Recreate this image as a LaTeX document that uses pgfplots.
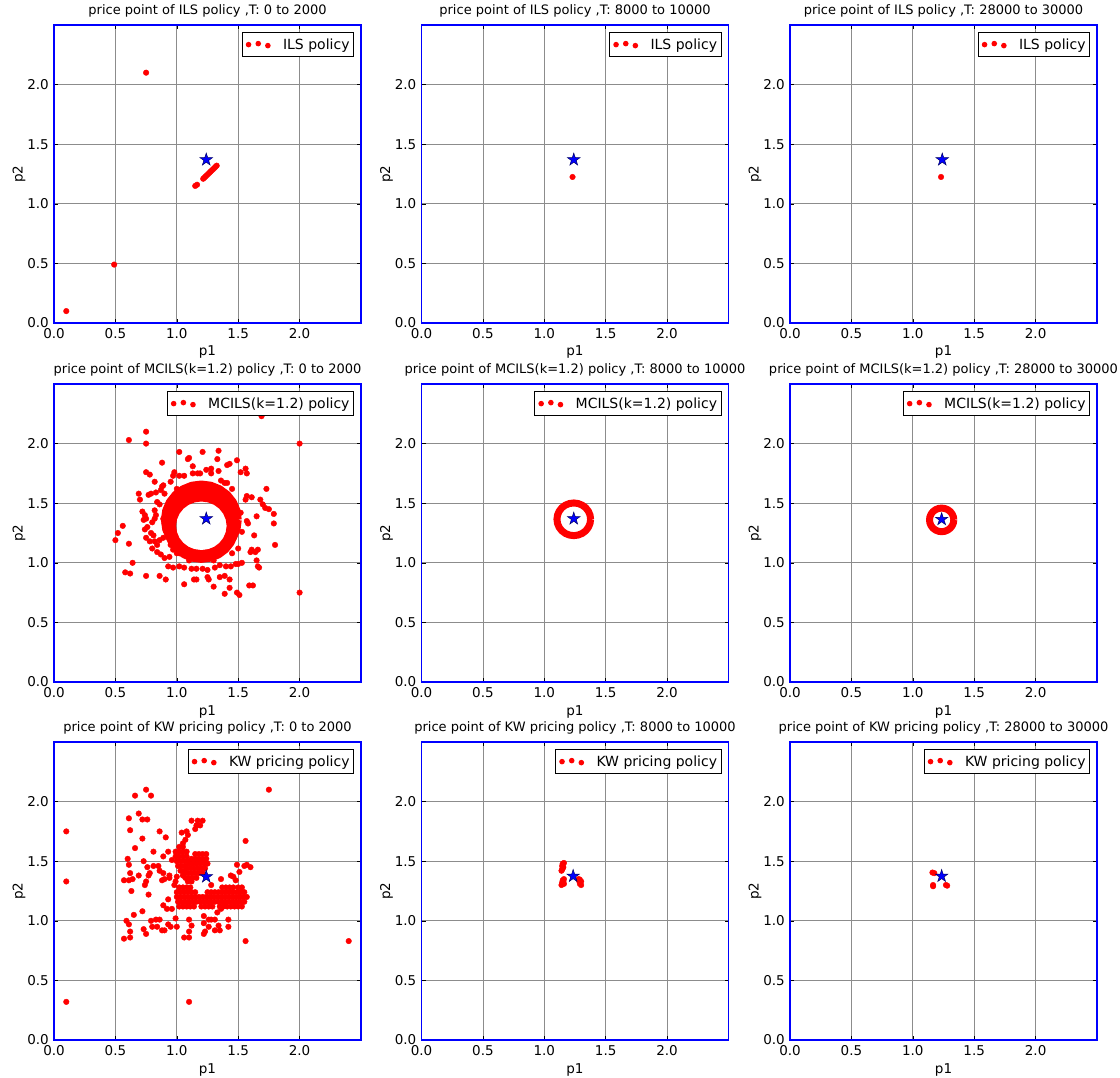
\documentclass[border=0pt]{standalone}
\usepackage{fontspec}
\setmainfont{DejaVu Sans}
\usepackage{pgfplots}
\pgfplotsset{compat=1.18}

% filled five-pointed star (matplotlib '*')
\pgfdeclareplotmark{fstar}{%
  \pgfpathmoveto{\pgfpointpolar{90}{\pgfplotmarksize}}%
  \pgfpathlineto{\pgfpointpolar{126}{0.38\pgfplotmarksize}}%
  \pgfpathlineto{\pgfpointpolar{162}{\pgfplotmarksize}}%
  \pgfpathlineto{\pgfpointpolar{198}{0.38\pgfplotmarksize}}%
  \pgfpathlineto{\pgfpointpolar{234}{\pgfplotmarksize}}%
  \pgfpathlineto{\pgfpointpolar{270}{0.38\pgfplotmarksize}}%
  \pgfpathlineto{\pgfpointpolar{306}{\pgfplotmarksize}}%
  \pgfpathlineto{\pgfpointpolar{342}{0.38\pgfplotmarksize}}%
  \pgfpathlineto{\pgfpointpolar{18}{\pgfplotmarksize}}%
  \pgfpathlineto{\pgfpointpolar{54}{0.38\pgfplotmarksize}}%
  \pgfpathclose
  \pgfusepathqfillstroke
}

\newcommand\fs{\fontsize{13.5}{16}\selectfont}

\pgfplotsset{
  panel/.style={
    scale only axis, width=307pt, height=298pt, anchor=north west,
    xmin=0, xmax=2.5, ymin=0, ymax=2.5,
    xtick={0,0.5,1,1.5,2}, ytick={0,0.5,1,1.5,2},
    /pgf/number format/fixed, /pgf/number format/fixed zerofill,
    /pgf/number format/precision=1, /pgf/number format/assume math mode=true,
    tick label style={font=\fs},
    xticklabel style={inner sep=0pt, anchor=north, yshift=-5pt},
    yticklabel style={inner sep=0pt, anchor=east, xshift=-5pt},
    xlabel={p1}, ylabel={p2},
    x label style={at={(axis description cs:0.5,0)}, anchor=base, yshift=-33pt, font=\fs},
    y label style={at={(axis description cs:-0.114,0.5)}, anchor=center, font=\fs},
    title style={at={(axis description cs:0.5,1)}, anchor=base, yshift=4.5pt, font=\fontsize{13}{15}\selectfont},
    grid=major, major grid style={black!45, line width=0.7pt},
    axis line style={blue, line width=1.8pt},
    tick align=inside, major tick length=4pt, tick style={black, line width=0.5pt},
    legend style={at={(axis description cs:0.977,0.976)}, anchor=north east,
      draw=black, line width=0.8pt, font=\fontsize{14}{16.5}\selectfont,
      inner xsep=0.5pt, inner ysep=2.5pt, nodes={inner sep=3.5pt}},
  },
  threedots/.style={legend image code/.code={
    \fill[red, draw=none] (6pt,0pt) circle[radius=2.8pt];
    \fill[red, draw=none] (15.7pt,1pt) circle[radius=2.8pt];
    \fill[red, draw=none] (25.3pt,-1pt) circle[radius=2.8pt];
    \path[draw=none, fill=none] (0pt,0pt) -- (37pt,0pt);
  }},
  pts/.style={only marks, mark=*, mark size=2.8pt, color=red,
    mark options={draw=red, fill=red}, threedots},
  optstar/.style={only marks, mark=fstar, mark size=6.6pt, forget plot,
    mark options={fill=blue, draw=black!60!blue, line width=0.5pt}},
  ring/.style={red, line join=round, forget plot},
}

\begin{document}
\begin{tikzpicture}
\useasboundingbox (0pt,0pt) rectangle (1120pt,-1078pt);

% ---------------- row 1: ILS ----------------
\begin{axis}[panel, at={(54pt,-25pt)}, title={price point of ILS policy ,T: 0 to 2000}]
\addplot[pts] table {
x y
0.10 0.10
0.49 0.49
0.75 2.10
1.150 1.150
1.165 1.160
1.215 1.210
1.225 1.220
1.235 1.230
1.245 1.240
1.255 1.250
1.265 1.260
1.275 1.270
1.285 1.280
1.295 1.290
1.305 1.300
1.315 1.310
1.325 1.320
};
\addlegendentry{ILS policy}
\addplot[optstar] coordinates {(1.24,1.37)};
\end{axis}

\begin{axis}[panel, at={(421.5pt,-25pt)}, title={price point of ILS policy ,T: 8000 to 10000}]
\addplot[pts] coordinates {(1.23,1.225)};
\addlegendentry{ILS policy}
\addplot[optstar] coordinates {(1.24,1.37)};
\end{axis}

\begin{axis}[panel, at={(790pt,-25pt)}, title={price point of ILS policy ,T: 28000 to 30000}]
\addplot[pts] coordinates {(1.23,1.225)};
\addlegendentry{ILS policy}
\addplot[optstar] coordinates {(1.24,1.37)};
\end{axis}

% ---------------- row 2: MCILS ----------------
\begin{axis}[panel, at={(54pt,-384pt)}, title={price point of MCILS(k=1.2) policy ,T: 0 to 2000}]
% dense band of points round the optimum
\addplot[ring, line width=12.6pt] coordinates {
(1.4575,1.3100) (1.4487,1.3766) (1.4230,1.4388) (1.3821,1.4921) (1.3288,1.5330) (1.2666,1.5587)
(1.2000,1.5675) (1.1334,1.5587) (1.0712,1.5330) (1.0179,1.4921) (0.9770,1.4388) (0.9513,1.3766)
(0.9425,1.3100) (0.9513,1.2434) (0.9770,1.1812) (1.0179,1.1279) (1.0712,1.0870) (1.1334,1.0613)
(1.2000,1.0525) (1.2666,1.0613) (1.3288,1.0870) (1.3821,1.1279) (1.4230,1.1812) (1.4487,1.2434)
(1.4575,1.3100)};
\addplot[ring, line width=9pt] coordinates {
(1.4925,1.3600) (1.4825,1.4357) (1.4533,1.5063) (1.4068,1.5668) (1.3463,1.6133) (1.2757,1.6425)
(1.2000,1.6525) (1.1243,1.6425) (1.0537,1.6133) (0.9932,1.5668) (0.9467,1.5063) (0.9175,1.4357)
(0.9075,1.3600) (0.9175,1.2843) (0.9467,1.2137) (0.9932,1.1532) (1.0537,1.1067) (1.1243,1.0775)
(1.2000,1.0675) (1.2757,1.0775) (1.3463,1.1067) (1.4068,1.1532) (1.4533,1.2137) (1.4825,1.2843)
(1.4925,1.3600)};
\addplot[pts] table {
x y
0.50 1.19
0.52 1.25
0.56 1.31
0.58 0.92
0.62 0.91
0.61 1.16
0.64 1.00
0.61 2.03
0.75 2.10
0.75 2.00
0.75 1.76
0.78 1.74
0.75 0.89
0.86 0.89
0.91 0.86
1.06 0.82
0.88 1.84
1.02 1.93
1.10 1.88
1.09 1.87
1.13 1.81
1.21 1.93
1.34 1.94
1.33 1.87
1.43 1.83
1.41 1.82
1.49 1.86
0.98 1.76
0.97 1.73
1.02 1.73
1.06 1.73
1.13 1.75
1.17 1.75
1.19 1.75
1.24 1.78
1.28 1.75
1.28 1.79
1.34 1.77
1.52 1.76
1.56 1.79
1.57 1.75
0.82 1.68
0.89 1.65
0.88 1.64
0.95 1.68
1.36 1.69
1.39 1.67
1.41 1.67
1.73 1.62
0.77 1.57
0.79 1.58
0.83 1.59
0.69 1.58
0.70 1.53
1.57 1.56
1.61 1.55
1.56 1.53
1.68 1.53
1.70 1.49
1.72 1.46
1.75 1.45
1.79 1.41
1.79 1.33
1.80 1.15
0.72 1.43
0.74 1.40
0.75 1.37
0.73 1.36
0.82 1.44
0.83 1.40
0.82 1.37
0.80 1.34
0.89 1.37
0.90 1.33
1.65 1.39
1.57 1.35
1.58 1.33
0.74 1.28
0.76 1.30
0.79 1.25
0.81 1.23
0.75 1.21
0.78 1.18
0.82 1.18
0.84 1.15
0.86 1.19
0.89 1.21
1.63 1.23
0.80 1.12
0.84 1.09
0.87 1.07
0.90 1.04
0.94 1.05
0.97 1.11
1.02 1.08
1.61 1.11
1.66 1.11
1.64 1.09
1.60 1.09
1.65 1.02
1.66 0.97
0.93 0.97
0.97 0.96
1.02 0.97
1.06 0.96
1.12 0.95
1.16 0.95
1.21 0.95
1.25 0.94
1.31 0.96
1.35 0.98
1.40 0.97
1.44 0.97
1.48 0.99
1.50 0.99
1.53 1.00
1.14 0.86
1.16 0.86
1.25 0.88
1.26 0.86
1.30 0.80
1.35 0.88
1.39 0.89
1.43 0.86
1.43 0.79
1.39 0.74
1.49 0.75
1.51 0.73
1.59 0.81
1.62 0.81
1.67 0.96
2.00 0.75
2.00 2.00
1.69 2.23
0.87 1.61
0.90 1.58
0.84 1.51
0.86 1.49
0.92 1.45
0.91 1.27
1.52 1.42
1.53 1.26
1.50 1.12
1.45 1.08
0.95 1.15
1.00 1.08
1.10 1.02
1.30 1.02
1.00 1.62
1.45 1.62
};
\addlegendentry{MCILS(k=1.2) policy}
\addplot[optstar] coordinates {(1.24,1.37)};
\end{axis}

\begin{axis}[panel, at={(421.5pt,-384pt)}, title={price point of MCILS(k=1.2) policy ,T: 8000 to 10000}]
\addplot[ring, line width=7pt] coordinates {
(1.3770,1.3650) (1.3723,1.4005) (1.3586,1.4335) (1.3369,1.4619) (1.3085,1.4836) (1.2755,1.4973)
(1.2400,1.5020) (1.2045,1.4973) (1.1715,1.4836) (1.1431,1.4619) (1.1214,1.4335) (1.1077,1.4005)
(1.1030,1.3650) (1.1077,1.3295) (1.1214,1.2965) (1.1431,1.2681) (1.1715,1.2464) (1.2045,1.2327)
(1.2400,1.2280) (1.2755,1.2327) (1.3085,1.2464) (1.3369,1.2681) (1.3586,1.2965) (1.3723,1.3295)
(1.3770,1.3650)};
\addlegendimage{threedots}
\addlegendentry{MCILS(k=1.2) policy}
\addplot[optstar] coordinates {(1.24,1.37)};
\end{axis}

\begin{axis}[panel, at={(790pt,-384pt)}, title={price point of MCILS(k=1.2) policy ,T: 28000 to 30000}]
\addplot[ring, line width=7pt] coordinates {
(1.3340,1.3600) (1.3306,1.3856) (1.3207,1.4095) (1.3050,1.4300) (1.2845,1.4457) (1.2606,1.4556)
(1.2350,1.4590) (1.2094,1.4556) (1.1855,1.4457) (1.1650,1.4300) (1.1493,1.4095) (1.1394,1.3856)
(1.1360,1.3600) (1.1394,1.3344) (1.1493,1.3105) (1.1650,1.2900) (1.1855,1.2743) (1.2094,1.2644)
(1.2350,1.2610) (1.2606,1.2644) (1.2845,1.2743) (1.3050,1.2900) (1.3207,1.3105) (1.3306,1.3344)
(1.3340,1.3600)};
\addlegendimage{threedots}
\addlegendentry{MCILS(k=1.2) policy}
\addplot[optstar] coordinates {(1.235,1.365)};
\end{axis}

% ---------------- row 3: KW pricing ----------------
\begin{axis}[panel, at={(54pt,-742pt)}, title={price point of KW pricing policy ,T: 0 to 2000}]
\addplot[pts] table {
x y
0.10 1.75
0.10 1.33
0.10 0.32
1.10 0.32
1.56 0.83
2.40 0.83
1.75 2.10
0.66 2.05
0.75 2.10
0.79 2.05
0.61 1.86
0.72 1.85
0.76 1.85
0.62 1.76
0.69 1.90
0.66 1.61
0.72 1.69
0.60 1.52
0.61 1.47
0.62 1.40
0.57 1.34
0.61 1.34
0.64 1.35
0.63 1.25
0.73 1.50
0.69 1.38
0.77 1.38
0.78 1.40
0.75 1.33
0.76 1.45
0.81 1.46
0.85 1.46
0.86 1.42
0.81 1.58
0.86 1.75
0.91 1.70
0.89 1.54
0.89 1.40
0.94 1.38
0.94 1.36
0.88 1.34
0.90 1.35
0.93 1.58
0.96 1.51
0.93 1.18
0.89 1.13
0.92 1.10
0.96 1.10
0.77 1.22
0.74 1.30
0.72 1.08
0.65 1.05
0.59 1.00
0.61 0.97
0.62 0.91
0.57 0.85
0.62 0.86
0.73 0.93
0.75 0.89
0.80 0.95
0.79 1.00
0.83 1.01
0.86 1.01
0.84 0.95
0.88 0.92
0.90 0.92
0.93 0.97
0.95 0.95
0.99 1.02
1.00 0.95
1.06 0.86
1.10 0.86
1.10 0.91
1.10 1.01
1.12 0.96
1.22 1.04
1.22 0.98
1.23 0.91
1.22 0.89
1.26 1.01
1.28 1.01
1.31 1.01
1.26 0.95
1.31 0.92
1.34 0.96
1.35 0.92
1.42 1.01
1.42 0.95
1.33 1.07
1.36 1.10
1.28 1.30
1.36 1.35
1.44 1.38
1.46 1.37
1.48 1.34
1.49 1.47
1.51 1.41
1.55 1.46
1.57 1.47
1.60 1.45
1.56 1.67
1.12 1.84
1.16 1.80
1.17 1.84
1.21 1.84
1.19 1.80
1.15 1.77
1.04 1.74
1.08 1.75
1.09 1.72
1.07 1.68
1.05 1.65
0.99 1.33
1.00 1.37
0.98 1.30
1.02 1.62
1.05 1.62
0.99 1.58
1.02 1.58
1.05 1.58
1.08 1.58
0.99 1.54
1.02 1.54
1.05 1.54
1.08 1.54
1.00 1.50
1.03 1.50
1.06 1.50
1.09 1.50
1.01 1.46
1.04 1.46
1.07 1.46
1.03 1.42
1.06 1.42
1.05 1.38
1.15 1.56
1.18 1.56
1.21 1.56
1.24 1.56
1.12 1.52
1.15 1.52
1.18 1.52
1.21 1.52
1.24 1.52
1.10 1.48
1.13 1.48
1.16 1.48
1.19 1.48
1.22 1.48
1.25 1.48
1.08 1.44
1.11 1.44
1.14 1.44
1.17 1.44
1.20 1.44
1.23 1.44
1.06 1.40
1.09 1.40
1.12 1.40
1.15 1.40
1.18 1.40
1.21 1.40
1.07 1.36
1.10 1.36
1.13 1.36
1.16 1.36
1.09 1.33
1.12 1.33
1.02 1.28
1.05 1.28
1.08 1.28
1.11 1.28
1.37 1.28
1.40 1.28
1.43 1.28
1.46 1.28
1.50 1.28
1.53 1.28
1.00 1.24
1.03 1.24
1.06 1.24
1.09 1.24
1.12 1.24
1.15 1.24
1.25 1.24
1.28 1.24
1.31 1.24
1.34 1.24
1.37 1.24
1.40 1.24
1.43 1.24
1.46 1.24
1.49 1.24
1.52 1.24
1.55 1.24
1.00 1.20
1.03 1.20
1.06 1.20
1.09 1.20
1.12 1.20
1.15 1.20
1.18 1.20
1.21 1.20
1.24 1.20
1.27 1.20
1.30 1.20
1.33 1.20
1.36 1.20
1.39 1.20
1.42 1.20
1.45 1.20
1.48 1.20
1.51 1.20
1.54 1.20
1.57 1.20
1.01 1.16
1.04 1.16
1.07 1.16
1.10 1.16
1.13 1.16
1.16 1.16
1.19 1.16
1.22 1.16
1.25 1.16
1.28 1.16
1.31 1.16
1.34 1.16
1.37 1.16
1.40 1.16
1.43 1.16
1.46 1.16
1.49 1.16
1.52 1.16
1.55 1.16
1.02 1.12
1.05 1.12
1.08 1.12
1.11 1.12
1.14 1.12
1.20 1.12
1.23 1.12
1.26 1.12
1.29 1.12
1.35 1.12
1.38 1.12
1.41 1.12
1.44 1.12
1.47 1.12
1.50 1.12
1.53 1.12
};
\addlegendentry{KW pricing policy}
\addplot[optstar] coordinates {(1.24,1.37)};
\end{axis}

\begin{axis}[panel, at={(421.5pt,-742pt)}, title={price point of KW pricing policy ,T: 8000 to 10000}]
\addplot[pts] table {
x y
1.150 1.480
1.160 1.485
1.145 1.460
1.155 1.450
1.150 1.440
1.145 1.430
1.140 1.420
1.140 1.300
1.145 1.320
1.150 1.340
1.160 1.350
1.160 1.310
1.155 1.330
1.280 1.350
1.285 1.330
1.290 1.310
1.300 1.300
1.300 1.330
1.290 1.345
};
\addlegendentry{KW pricing policy}
\addplot[optstar] coordinates {(1.235,1.375)};
\end{axis}

\begin{axis}[panel, at={(790pt,-742pt)}, title={price point of KW pricing policy ,T: 28000 to 30000}]
\addplot[pts] table {
x y
1.160 1.405
1.175 1.400
1.165 1.300
1.165 1.290
1.270 1.300
1.280 1.295
};
\addlegendentry{KW pricing policy}
\addplot[optstar] coordinates {(1.235,1.375)};
\end{axis}
\end{tikzpicture}
\end{document}
